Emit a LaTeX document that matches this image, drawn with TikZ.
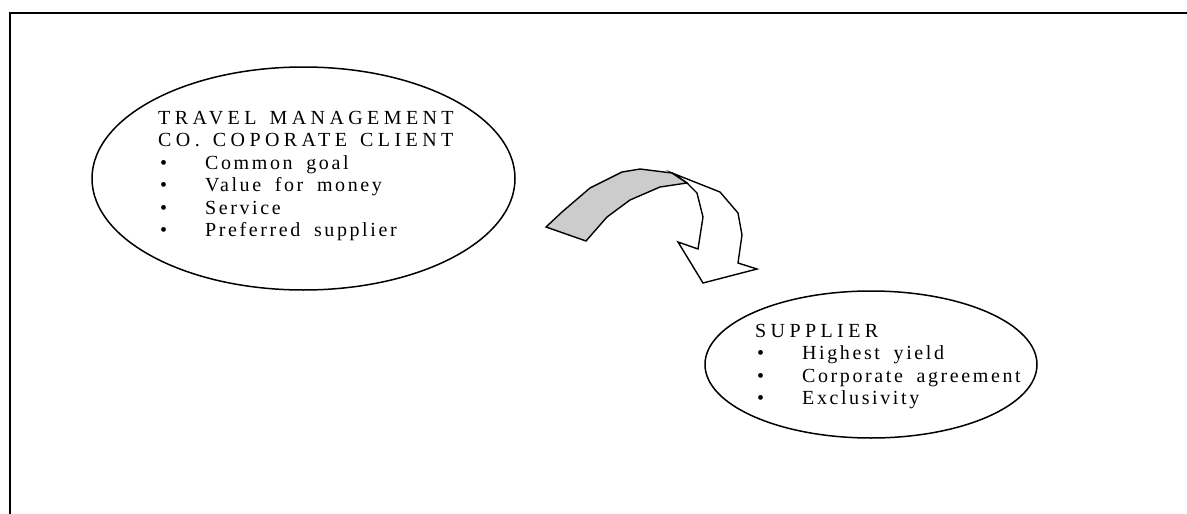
\documentclass[tikz,border=0pt]{standalone}
\usepackage{fontspec}
\setmainfont{Liberation Serif}
\newfontfamily\spaced[LetterSpace=13,WordSpace=1.8]{Liberation Serif}
\newfontfamily\capspaced[LetterSpace=22,WordSpace=1.4]{Liberation Serif}
\usetikzlibrary{shapes.geometric}
\begin{document}
\begin{tikzpicture}[x=1pt,y=-1pt,
  bubble/.style={draw, ellipse, line width=1.5pt, inner sep=0pt},
  bubbletext/.style={anchor=base west, inner sep=0pt, font=\fontsize{20}{22.5}\selectfont\spaced},
  arrowpart/.style={draw, line width=1.4pt, line join=miter}]
\useasboundingbox (0,0) rectangle (1187,514);
\draw[line width=2pt] (10,514) -- (10,13) -- (1187,13);
\node[bubble, minimum width=423pt, minimum height=223pt] (client) at (303.5,178.5) {};
\node[bubble, minimum width=332pt, minimum height=147pt] (supplier) at (871,364.5) {};
\newcommand{\bul}[1]{\hspace*{2pt}\makebox[45pt][l]{•}#1}
\newcommand{\hdr}[1]{{\capspaced #1}}
\node[bubbletext] (clienttext) at (158,124) {\begin{tabular}[t]{@{}l@{}}
\hdr{TRAVEL MANAGEMENT}\\
\hdr{CO. COPORATE CLIENT}\\
\bul{Common goal}\\
\bul{Value for money}\\
\bul{Service}\\
\bul{Preferred supplier}
\end{tabular}};
\node[bubbletext] (suppliertext) at (755,337) {\begin{tabular}[t]{@{}l@{}}
\hdr{SUPPLIER}\\
\bul{Highest yield}\\
\bul{Corporate agreement}\\
\bul{Exclusivity}
\end{tabular}};
\draw[arrowpart, fill=white] (672,173) -- (720,192) -- (738,213) -- (742,235) -- (738,263) -- (757,269) -- (703,283) -- (678,242) -- (698,249) -- (703,217) -- (697,193) -- (687,183) -- cycle;
\draw[arrowpart, fill={rgb,255:red,204;green,204;blue,204}] (546,227) -- (562,212) -- (590,188) -- (622,172) -- (640,169) -- (672,173) -- (687,183) -- (660,187) -- (630,200) -- (607,217) -- (586,241) -- cycle;
\end{tikzpicture}
\end{document}
